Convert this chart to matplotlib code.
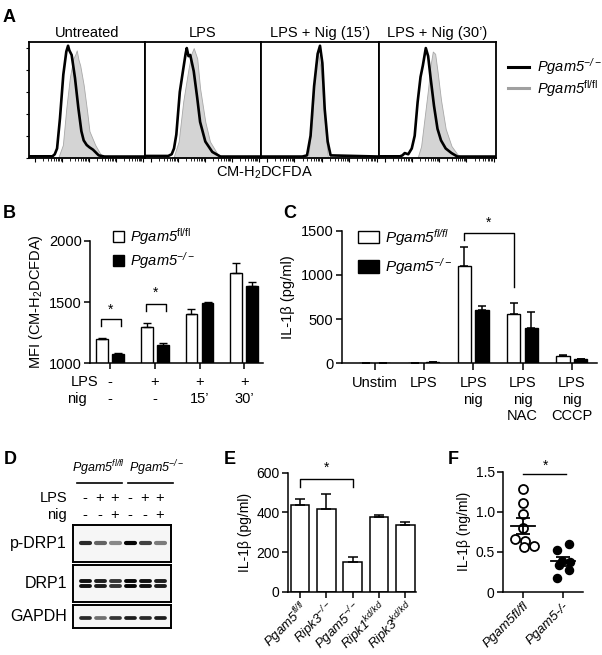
import matplotlib
matplotlib.use('Agg')
import matplotlib.pyplot as plt
import numpy as np
from matplotlib.lines import Line2D
from matplotlib.transforms import blended_transform_factory

plt.rcParams['font.family'] = 'Liberation Sans'
plt.rcParams['mathtext.fontset'] = 'custom'
plt.rcParams['mathtext.rm'] = 'Liberation Sans'
plt.rcParams['mathtext.sf'] = 'Liberation Sans'
plt.rcParams['mathtext.it'] = 'Liberation Sans:italic'
plt.rcParams['mathtext.bf'] = 'Liberation Sans:bold'
plt.rcParams['mathtext.default'] = 'regular'
plt.rcParams['font.size'] = 10

# ---- data ----
# A: flow histograms (x: relative position in panel, y: fraction of mode)
hist_titles = ['Untreated', 'LPS', 'LPS + Nig (15\u2019)', 'LPS + Nig (30\u2019)']
ko_untreated = [(0, .012), (.2, .012), (.22, .03), (.24, .08), (.265, .34), (.294, .72), (.32, .92),
                (.335, .97), (.346, .93), (.366, .89), (.395, .69), (.424, .43), (.45, .23), (.47, .15),
                (.496, .11), (.52, .09), (.55, .07), (.6, .02), (.65, .01), (1, .01)]
fl_untreated = [(.25, 0), (.29, .11), (.32, .43), (.35, .69), (.38, .86), (.40, .9), (.41, .93),
                (.425, .85), (.44, .8), (.47, .63), (.5, .4), (.52, .23), (.57, .11), (.61, .04), (.64, 0)]
ko_lps = [(0, .015), (.2, .015), (.23, .03), (.25, .08), (.27, .2), (.30, .57), (.33, .77), (.35, .9),
          (.36, .95), (.375, .88), (.39, .89), (.42, .75), (.45, .52), (.475, .31), (.52, .14),
          (.58, .05), (.65, .01), (1, .01)]
fl_lps = [(.245, 0), (.29, .14), (.33, .49), (.375, .77), (.40, .9), (.42, .95), (.45, .86),
          (.475, .6), (.52, .31), (.56, .14), (.62, .04), (.66, 0)]
ko_nig15 = [(0, .01), (.35, .01), (.39, .02), (.42, .19), (.45, .62), (.48, .9), (.5, .97),
            (.52, .82), (.54, .42), (.565, .14), (.59, .02), (1, .01)]
fl_nig15 = [(.40, 0), (.435, .34), (.46, .8), (.485, .9), (.51, .74), (.54, .31), (.565, .02), (.57, 0)]
ko_nig30 = [(0, .012), (.18, .012), (.2, .02), (.22, .04), (.25, .03), (.28, .08), (.305, .19),
            (.33, .48), (.355, .7), (.375, .8), (.40, .95), (.42, .88), (.44, .7), (.47, .45),
            (.50, .25), (.53, .15), (.57, .08), (.62, .04), (.67, .01), (1, .01)]
fl_nig30 = [(.33, 0), (.36, .1), (.39, .35), (.42, .6), (.44, .8), (.46, .92), (.48, .9), (.50, .75),
            (.53, .5), (.57, .25), (.62, .1), (.67, .03), (.71, 0)]

# B: MFI
b_lps = ['-', '+', '+', '+']
b_nig = ['-', '-', '15\u2019', '30\u2019']
b_fl = [1195, 1293, 1400, 1735]
b_fl_err = [12, 38, 42, 85]
b_ko = [1075, 1152, 1490, 1632]
b_ko_err = [8, 15, 10, 30]

# C: IL-1b
c_labels = ['Unstim', 'LPS', 'LPS\nnig', 'LPS\nnig\nNAC', 'LPS\nnig\nCCCP']
c_fl = [6, 5, 1100, 553, 80]
c_fl_err = [3, 3, 218, 132, 12]
c_ko = [5, 12, 601, 395, 45]
c_ko_err = [2, 4, 46, 187, 6]

# D: western blot band intensities
d_lps = ['-', '+', '+', '-', '+', '+']
d_nig = ['-', '-', '+', '-', '-', '+']
d_pdrp1 = [0.85, 0.6, 0.45, 1.0, 0.75, 0.5]
d_drp1 = [0.95, 0.9, 0.8, 1.0, 0.95, 0.9]
d_gapdh = [0.85, 0.55, 0.8, 0.9, 0.85, 0.9]

# E
e_labels = ['Pgam5$^{fl/fl}$', 'Ripk3$^{-/-}$', 'Pgam5$^{-/-}$', 'Ripk1$^{kd/kd}$', 'Ripk3$^{kd/kd}$']
e_vals = [437, 417, 151, 375, 334]
e_err = [28, 75, 25, 10, 19]

# F
f_labels = ['Pgam5fl/fl', 'Pgam5-/-']
f_fl = [1.28, 1.11, 0.97, 0.80, 0.66, 0.64, 0.57, 0.56]
f_ko = [0.525, 0.595, 0.39, 0.38, 0.34, 0.275, 0.17]
f_fl_jit = [0, 0, 0, 0, -0.2, 0.05, 0.28, 0.02]
f_ko_jit = [-0.15, 0.16, -0.02, 0.18, -0.1, 0.16, -0.15]

W, H = 602, 655
fig = plt.figure(figsize=(W / 100, H / 100), dpi=100)


def px_axes(x0, y0, x1, y1):
    return fig.add_axes([x0 / W, 1 - y1 / H, (x1 - x0) / W, (y1 - y0) / H])


def ftext(x, y, s, **kw):
    kw.setdefault('va', 'center')
    fig.text(x / W, 1 - y / H, s, **kw)


def style_axes(ax):
    for s in ['top', 'right']:
        ax.spines[s].set_visible(False)
    for s in ['left', 'bottom']:
        ax.spines[s].set_linewidth(1.1)
    ax.tick_params(direction='out', length=4, width=1.1, labelsize=10.5, pad=2)


# panel letters
for let, x, y in [('A', 9, 18), ('B', 9, 214), ('C', 290, 214), ('D', 10, 460), ('E', 230, 460), ('F', 453, 460)]:
    ftext(x, y, let, fontsize=13, fontweight='bold', ha='center')

# ---- A ----
edges = [29.3, 145, 261, 379, 496]
pairs = [(ko_untreated, fl_untreated), (ko_lps, fl_lps), (ko_nig15, fl_nig15), (ko_nig30, fl_nig30)]
minor = []
for d in range(4):
    minor += list((d + np.log10(np.arange(2, 10))) / 4.3 + 0.05)
for i, (ko, fl) in enumerate(pairs):
    ax = px_axes(edges[i], 42.3, edges[i + 1], 157.7)
    fx, fy = zip(*fl)
    ax.fill_between(fx, fy, color='#d4d4d4', edgecolor='#a8a8a8', lw=0.6)
    kx, ky = zip(*ko)
    ax.plot(kx, ky, color='black', lw=1.9)
    ax.set_xlim(0, 1)
    ax.set_ylim(0, 1.0)
    for s in ax.spines.values():
        s.set_linewidth(1.3)
    ax.set_xticks([0.05 + d / 4.3 for d in range(5)])
    ax.set_xticks(minor, minor=True)
    ax.tick_params(axis='x', which='major', length=3, width=0.8, labelbottom=False)
    ax.tick_params(axis='x', which='minor', length=1.8, width=0.6)
    if i == 0:
        ax.set_yticks(np.linspace(0, 0.95, 6))
        ax.tick_params(axis='y', length=2.5, width=0.8, labelleft=False)
    else:
        ax.set_yticks([])
    ax.set_title(hist_titles[i], fontsize=10.5, pad=4)
ftext(264, 173, 'CM-H$_2$DCFDA', fontsize=10.5, ha='center')
fig.add_artist(Line2D([508 / W, 529 / W], [1 - 66.7 / H] * 2, color='black', lw=2.2))
fig.add_artist(Line2D([508 / W, 529 / W], [1 - 88.3 / H] * 2, color='#a0a0a0', lw=2.2))
ftext(537, 66.7, 'Pgam5$^{-/-}$', fontsize=10.5, style='italic')
ftext(537, 88.3, r'Pgam5$^{\mathsf{fl/fl}}$', fontsize=10.5, style='italic')

# ---- B ----
axB = px_axes(90, 240.7, 263, 363.3)
style_axes(axB)
xb = np.arange(len(b_fl))
axB.bar(xb - 0.18, b_fl, 0.26, color='white', edgecolor='black', lw=1.0,
        yerr=[np.zeros(4), b_fl_err], error_kw=dict(capsize=3, elinewidth=1.0, capthick=1.0),
        label=r'Pgam5$^{\mathsf{fl/fl}}$')
axB.bar(xb + 0.18, b_ko, 0.26, color='black', edgecolor='black', lw=1.0,
        yerr=[np.zeros(4), b_ko_err], error_kw=dict(capsize=3, elinewidth=1.0, capthick=1.0),
        label='Pgam5$^{-/-}$')
axB.set_ylim(1000, 2000)
axB.set_xlim(-0.45, 3.42)
axB.set_yticks([1000, 1500, 2000])
axB.set_xticks(xb)
axB.set_xticklabels([])
axB.set_ylabel('MFI (CM-H$_2$DCFDA)', fontsize=10.5, labelpad=3)
axB.legend(loc='upper left', bbox_to_anchor=(0.135, 1.12), frameon=False,
           prop=dict(size=10.5, style='italic'),
           handlelength=0.75, handleheight=0.75, handletextpad=0.4, labelspacing=0.22,
           borderpad=0, borderaxespad=0)
for x0, top, star in [(0, 1364, 1435), (1, 1484, 1574)]:
    axB.plot([x0 - 0.2, x0 - 0.2, x0 + 0.25, x0 + 0.25], [top - 60, top, top, top - 60],
             color='black', lw=1.0, clip_on=False)
    axB.text(x0 + 0.02, star, '*', ha='center', va='center', fontsize=10)
trB = blended_transform_factory(axB.transData, axB.transAxes)
axB.text(-0.45 - 0.42, -0.15, 'LPS', transform=trB, ha='left', va='center', fontsize=10.5)
axB.text(-0.45 - 0.51, -0.29, 'nig', transform=trB, ha='left', va='center', fontsize=10.5)
for i in range(4):
    axB.text(xb[i], -0.15, b_lps[i], transform=trB, ha='center', va='center', fontsize=10.5)
    axB.text(xb[i], -0.29, b_nig[i], transform=trB, ha='center', va='center', fontsize=10.5)

# ---- C ----
axC = px_axes(341.7, 230.7, 597, 363.3)
style_axes(axC)
xc = np.arange(len(c_fl))
axC.bar(xc - 0.18, c_fl, 0.27, color='white', edgecolor='black', lw=1.0,
        yerr=[np.zeros(5), c_fl_err], error_kw=dict(capsize=3, elinewidth=1.1, capthick=1.1),
        label='Pgam5$^{fl/fl}$')
axC.bar(xc + 0.18, c_ko, 0.27, color='black', edgecolor='black', lw=1.0,
        yerr=[np.zeros(5), c_ko_err], error_kw=dict(capsize=3, elinewidth=1.1, capthick=1.1),
        label='Pgam5$^{-/-}$')
axC.set_ylim(0, 1500)
axC.set_xlim(-0.667, 4.51)
axC.set_yticks([0, 500, 1000, 1500])
axC.set_xticks(xc)
axC.set_xticklabels(c_labels, fontsize=10.5, linespacing=1.25)
axC.tick_params(axis='x', length=5, pad=4)
axC.set_ylabel('IL-1\u03b2 (pg/ml)', fontsize=10.5, labelpad=4)
axC.legend(loc='upper left', bbox_to_anchor=(0.065, 1.03), frameon=False,
           prop=dict(size=11, style='italic'),
           handlelength=1.35, handleheight=0.9, handletextpad=0.4, labelspacing=0.55,
           borderpad=0, borderaxespad=0)
axC.plot([2 - 0.18, 2 - 0.18, 3 - 0.18, 3 - 0.18], [1395, 1470, 1470, 866], color='black', lw=1.0, clip_on=False)
axC.text(2.32, 1590, '*', ha='center', va='center', fontsize=10)

# ---- D ----
ftext(99, 468, 'Pgam5$^{fl/fl}$', fontsize=9, ha='center', style='italic')
ftext(157, 468, 'Pgam5$^{-/-}$', fontsize=9, ha='center', style='italic')
fig.add_artist(Line2D([77 / W, 122 / W], [1 - 483 / H] * 2, color='black', lw=1.2))
fig.add_artist(Line2D([128 / W, 173 / W], [1 - 483 / H] * 2, color='black', lw=1.2))
ftext(67, 498, 'LPS', fontsize=10.5, ha='right')
ftext(67, 515, 'nig', fontsize=10.5, ha='right')
lane_px = [85 + 15 * i for i in range(6)]
for i in range(6):
    ftext(lane_px[i], 498, d_lps[i], fontsize=10.5, ha='center')
    ftext(lane_px[i], 515, d_nig[i], fontsize=10.5, ha='center')

blots = [('p-DRP1', 525, 561.7, d_pdrp1, [0.5], 3.0),
         ('DRP1', 565, 601.7, d_drp1, [0.56, 0.44], 2.8),
         ('GAPDH', 605, 628.3, d_gapdh, [0.43], 2.7)]
for name, y0, y1, inten, rows, lw in blots:
    ax = px_axes(73.3, y0, 171, y1)
    ax.set_facecolor('#f6f6f6')
    ax.set_xlim(-0.78, 5.73)
    ax.set_ylim(0, 1)
    ax.set_xticks([])
    ax.set_yticks([])
    for s in ax.spines.values():
        s.set_linewidth(1.4)
    for i, v in enumerate(inten):
        g = 0.95 - 0.93 * v
        for r in rows:
            ax.plot([i - 0.3, i + 0.3], [r, r], color=(g, g, g), lw=lw, solid_capstyle='round')
    ftext(67, (y0 + y1) / 2, name, fontsize=11.5, ha='right')

# ---- E ----
axE = px_axes(288, 472.7, 416, 591.7)
style_axes(axE)
xe = np.arange(len(e_vals))
axE.bar(xe, e_vals, 0.71, color='white', edgecolor='black', lw=1.1,
        yerr=[np.zeros(5), e_err], error_kw=dict(capsize=3.5, elinewidth=1.1, capthick=1.1))
axE.set_ylim(0, 600)
axE.set_xlim(-0.456, 4.41)
axE.set_yticks([0, 200, 400, 600])
axE.set_xticks(xe)
axE.set_xticklabels(e_labels, rotation=45, ha='right', rotation_mode='anchor', fontsize=9.5, style='italic')
axE.tick_params(axis='y', labelsize=10)
axE.tick_params(axis='x', pad=1)
axE.set_ylabel('IL-1\u03b2 (pg/ml)', fontsize=10, labelpad=3)
axE.plot([0, 0, 2, 2], [528, 568, 568, 528], color='black', lw=1.0, clip_on=False)
axE.text(1, 625, '*', ha='center', va='center', fontsize=10)

# ---- F ----
axF = px_axes(503, 471.7, 583, 592)
style_axes(axF)
axF.scatter(np.array(f_fl_jit), f_fl, s=42, facecolor='white', edgecolor='black', lw=1.3, zorder=3)
axF.scatter(1 + np.array(f_ko_jit), f_ko, s=34, facecolor='black', edgecolor='black', lw=1.0, zorder=3)
for i, vals in enumerate([f_fl, f_ko]):
    m = np.mean(vals)
    sem = np.std(vals, ddof=1) / np.sqrt(len(vals))
    axF.plot([i - 0.3, i + 0.3], [m, m], color='black', lw=1.3, zorder=4)
    axF.errorbar(i, m, yerr=sem, color='black', capsize=5, elinewidth=1.3, capthick=1.3, zorder=4)
axF.set_ylim(0, 1.5)
axF.set_xlim(-0.5, 1.5)
axF.set_yticks([0, 0.5, 1.0, 1.5])
axF.set_yticklabels(['0', '0.5', '1.0', '1.5'])
axF.set_xticks([0, 1])
axF.set_xticklabels(f_labels, rotation=45, ha='right', rotation_mode='anchor', fontsize=9.5, style='italic')
axF.tick_params(axis='y', labelsize=10)
axF.set_ylabel('IL-1\u03b2 (ng/ml)', fontsize=10, labelpad=3)
axF.plot([0, 1.08], [1.47, 1.47], color='black', lw=1.0, clip_on=False)
axF.text(0.57, 1.57, '*', ha='center', va='center', fontsize=10)

fig.savefig('out.png', dpi=100)
